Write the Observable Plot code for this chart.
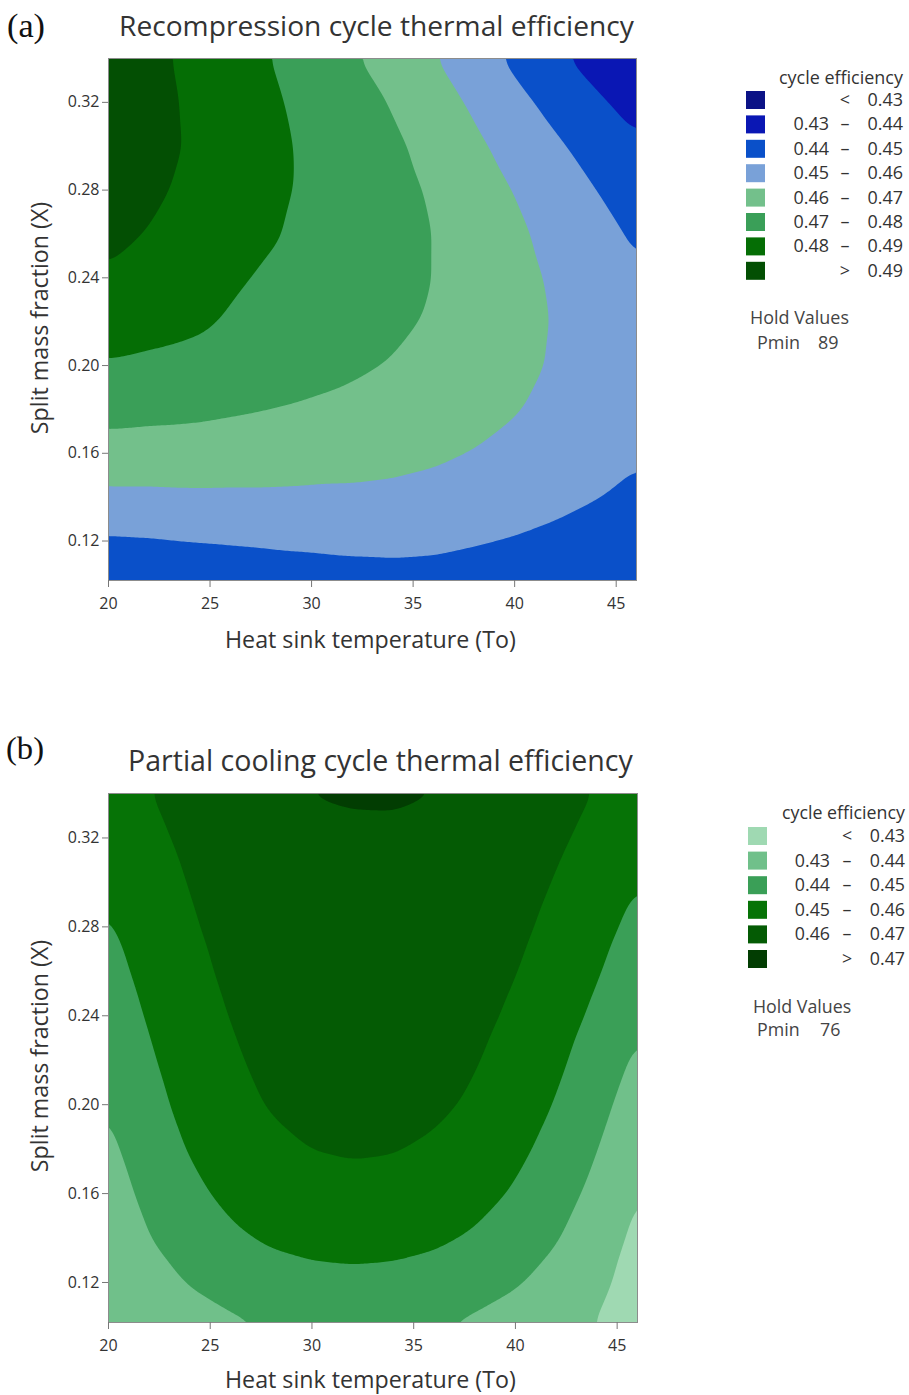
<!DOCTYPE html>
<html><head><meta charset="utf-8">
<script src="https://cdn.jsdelivr.net/npm/d3@7"></script>
<script src="https://cdn.jsdelivr.net/npm/@observablehq/plot@0.6"></script>
<style>
html,body{margin:0;padding:0;background:#fff;}
#page{position:relative;width:909px;height:1395px;overflow:hidden;}
#page > div, #page > svg{position:absolute;}
</style></head>
<body><div id="page"></div>
<script>
// ---- data ----
const tempGrid = [20, 22, 24, 26, 28, 30, 32, 34, 36, 38, 40, 42, 44, 46];      // Heat sink temperature (To)
const fracGrid = [0.10, 0.12, 0.14, 0.16, 0.18, 0.20, 0.22, 0.24, 0.26, 0.28, 0.30, 0.32, 0.34]; // Split mass fraction (X)

// (a) recompression cycle efficiency, one row per fracGrid value, one column per tempGrid value
const effRecompression = [
  [.4405,.4405,.4412,.4424,.4436,.4446,.4456,.4462,.4460,.4449,.4440,.4427,.4415,.4409],
  [.4489,.4494,.4503,.4509,.4515,.4519,.4524,.4525,.4520,.4508,.4495,.4480,.4464,.4451],
  [.4580,.4581,.4585,.4585,.4586,.4584,.4584,.4580,.4572,.4557,.4541,.4523,.4503,.4484],
  [.4661,.4658,.4657,.4652,.4647,.4641,.4635,.4627,.4614,.4597,.4578,.4556,.4532,.4508],
  [.4732,.4725,.4720,.4710,.4700,.4689,.4678,.4665,.4649,.4628,.4605,.4579,.4551,.4522],
  [.4793,.4783,.4773,.4759,.4744,.4728,.4713,.4695,.4674,.4649,.4622,.4592,.4560,.4527],
  [.4844,.4831,.4817,.4793,.4772,.4755,.4739,.4716,.4691,.4662,.4630,.4595,.4559,.4523],
  [.4893,.4875,.4840,.4810,.4790,.4772,.4752,.4729,.4699,.4665,.4628,.4588,.4549,.4509],
  [.4916,.4897,.4868,.4835,.4806,.4783,.4758,.4734,.4699,.4659,.4617,.4573,.4530,.4487],
  [.4937,.4915,.4885,.4848,.4815,.4787,.4760,.4730,.4689,.4644,.4597,.4548,.4501,.4455],
  [.4948,.4924,.4895,.4851,.4818,.4785,.4755,.4717,.4670,.4619,.4567,.4514,.4464,.4414],
  [.4950,.4924,.4892,.4848,.4812,.4775,.4740,.4694,.4642,.4586,.4528,.4471,.4417,.4364],
  [.4945,.4918,.4886,.4836,.4800,.4757,.4708,.4662,.4605,.4543,.4481,.4418,.4361,.4304]
];

// (b) partial cooling cycle efficiency
const effPartialCooling = [
  [.4296,.4331,.4359,.4382,.4397,.4407,.4410,.4407,.4397,.4382,.4359,.4331,.4296,.4255],
  [.4317,.4365,.4405,.4436,.4458,.4471,.4476,.4472,.4459,.4438,.4408,.4369,.4321,.4265],
  [.4338,.4398,.4447,.4485,.4513,.4530,.4536,.4531,.4516,.4490,.4454,.4406,.4348,.4279],
  [.4358,.4424,.4479,.4521,.4550,.4569,.4575,.4571,.4556,.4530,.4491,.4439,.4375,.4297],
  [.4380,.4450,.4506,.4550,.4581,.4601,.4608,.4604,.4588,.4560,.4521,.4469,.4403,.4324],
  [.4401,.4471,.4528,.4573,.4606,.4627,.4636,.4632,.4616,.4588,.4548,.4495,.4430,.4353],
  [.4423,.4490,.4545,.4589,.4621,.4641,.4650,.4647,.4632,.4606,.4567,.4518,.4456,.4383],
  [.4446,.4509,.4562,.4603,.4634,.4653,.4662,.4659,.4646,.4622,.4586,.4540,.4483,.4415],
  [.4469,.4528,.4577,.4616,.4645,.4663,.4671,.4670,.4658,.4636,.4603,.4561,.4508,.4445],
  [.4491,.4546,.4591,.4627,.4654,.4671,.4679,.4678,.4667,.4647,.4618,.4579,.4531,.4474],
  [.4512,.4562,.4604,.4638,.4662,.4679,.4686,.4685,.4676,.4658,.4632,.4596,.4553,.4501],
  [.4534,.4580,.4618,.4648,.4671,.4684,.4688,.4688,.4683,.4669,.4645,.4614,.4575,.4528],
  [.4555,.4598,.4634,.4662,.4684,.4702,.4707,.4708,.4701,.4683,.4661,.4633,.4596,.4553]
];

const xTicks = [20, 25, 30, 35, 40, 45];
const yTicks = [0.12, 0.16, 0.20, 0.24, 0.28, 0.32];

const breaksRecompression = [0.43, 0.44, 0.45, 0.46, 0.47, 0.48, 0.49];
const colorsRecompression = ["#0b1286", "#0a17b4", "#0a50c9", "#79a1d8", "#73c08b", "#3a9f58", "#056e05", "#034f03"];
const breaksPartialCooling = [0.43, 0.44, 0.45, 0.46, 0.47];
const colorsPartialCooling = ["#9fd9b2", "#70c08a", "#3a9f57", "#067306", "#045b04", "#023d02"];

const titles = ["Recompression cycle thermal efficiency", "Partial cooling cycle thermal efficiency"];
const panelTags = ["(a)", "(b)"];
const holdPmin = [89, 76];
const xLabel = "Heat sink temperature (To)";
const yLabel = "Split mass fraction (X)";
const legendTitle = "cycle efficiency";

// ---- build ----
const page = document.getElementById("page");
const FONT = "'Open Sans', 'Noto Sans', sans-serif";

function table(grid) {
  const out = [];
  fracGrid.forEach((X, i) => tempGrid.forEach((T, j) => out.push({T, X, eff: grid[i][j]})));
  return out;
}

function chart({grid, breaks, colors, top, height, marginBottom, marginRight}) {
  const svg = Plot.plot({
    width: 700, height,
    marginLeft: 108, marginRight, marginTop: 58, marginBottom,
    style: {fontFamily: FONT, fontSize: "16px", color: "#333", background: "transparent"},
    x: {domain: [20, 46]},
    y: {domain: [0.102, 0.34]},
    color: {type: "threshold", domain: breaks, range: colors},
    marks: [
      Plot.contour(table(grid), {
        x: "T", y: "X", fill: "eff",
        interpolate: "barycentric",
        pixelSize: 2,
        blur: 4,
        thresholds: [0.40, ...breaks],
        stroke: "none"
      }),
      Plot.frame({stroke: "#8c8c8c", strokeWidth: 1}),
      Plot.axisX({ticks: xTicks, tickSize: 7, tickPadding: 10, tickFormat: d => String(d), label: null, stroke: "#777", fill: "#333"}),
      Plot.axisY({ticks: yTicks, tickSize: 6, tickPadding: 3, tickFormat: d => d.toFixed(2), label: null, stroke: "#777", fill: "#333"})
    ]
  });
  svg.style.left = "0px";
  svg.style.top = top + "px";
  page.appendChild(svg);
}

chart({grid: effRecompression, breaks: breaksRecompression, colors: colorsRecompression, top: 0, height: 680, marginBottom: 100, marginRight: 64});
chart({grid: effPartialCooling, breaks: breaksPartialCooling, colors: colorsPartialCooling, top: 735, height: 660, marginBottom: 73, marginRight: 63});

// ---- overlay text: titles, axis labels, legends ----
const ns = "http://www.w3.org/2000/svg";
const ov = document.createElementNS(ns, "svg");
ov.setAttribute("width", 909); ov.setAttribute("height", 1395);
ov.style.left = "0px"; ov.style.top = "0px";
page.appendChild(ov);

function txt(str, {x, y, size = 15, family = FONT, anchor = "start", fit, fill = "#333", rotate}) {
  const t = document.createElementNS(ns, "text");
  t.textContent = str;
  t.setAttribute("x", x); t.setAttribute("y", y);
  t.setAttribute("font-family", family);
  t.setAttribute("font-size", size);
  t.setAttribute("text-anchor", anchor);
  t.setAttribute("fill", fill);
  if (rotate) t.setAttribute("transform", `rotate(${rotate},${x},${y})`);
  ov.appendChild(t);
  if (fit) {
    const w = t.getComputedTextLength();
    if (w > 0) { size = size * fit / w; t.setAttribute("font-size", size); }
  }
  return size;
}
function rect(x, y, w, h, fill) {
  const r = document.createElementNS(ns, "rect");
  r.setAttribute("x", x); r.setAttribute("y", y); r.setAttribute("width", w); r.setAttribute("height", h);
  r.setAttribute("fill", fill);
  ov.appendChild(r);
}

const panels = [
  {tag: {x: 7, y: 37}, title: {x: 119, y: 36, w: 515}, xl: {x: 225, y: 648}, yl: {x: 48, y: 318},
   breaks: breaksRecompression, colors: colorsRecompression,
   leg: {titleY: 84, titleW: 124, right: 903, sx: 746, row0: 100, step: 24.4, lowR: 829, dash: 845, holdX: 750, holdY: 324, pminY: 349, pminX: 757, valX: 818}},
  {tag: {x: 6, y: 759}, title: {x: 128, y: 771, w: 505}, xl: {x: 225, y: 1388}, yl: {x: 48, y: 1056},
   breaks: breaksPartialCooling, colors: colorsPartialCooling,
   leg: {titleY: 819, titleW: 123, right: 905, sx: 748, row0: 836, step: 24.6, lowR: 830, dash: 847, holdX: 753, holdY: 1013, pminY: 1036, pminX: 757, valX: 820}}
];

panels.forEach((p, k) => {
  txt(panelTags[k], {x: p.tag.x, y: p.tag.y, size: 30, family: "'Liberation Serif', 'DejaVu Serif', serif", fit: 38, fill: "#111"});
  txt(titles[k], {x: p.title.x, y: p.title.y, size: 25, fit: p.title.w, fill: "#333"});
  const ls = txt(xLabel, {x: p.xl.x, y: p.xl.y, size: 20, fit: 291, fill: "#333"});
  txt(yLabel, {x: p.yl.x, y: p.yl.y, size: ls, anchor: "middle", rotate: -90, fill: "#333"});
  const L = p.leg;
  const fs = txt(legendTitle, {x: L.right - L.titleW, y: L.titleY, size: 15, fit: L.titleW, fill: "#333"});
  const n = p.colors.length;
  for (let i = 0; i < n; i++) {
    const cy = L.row0 + i * L.step;
    rect(L.sx, cy - 9, 19, 18, p.colors[i]);
    const by = cy + 6;
    if (i === 0) {
      txt("<", {x: L.dash, y: by, size: fs, anchor: "middle"});
      txt(p.breaks[0].toFixed(2), {x: L.right, y: by, size: fs, anchor: "end"});
    } else if (i === n - 1) {
      txt(">", {x: L.dash, y: by, size: fs, anchor: "middle"});
      txt(p.breaks[n - 2].toFixed(2), {x: L.right, y: by, size: fs, anchor: "end"});
    } else {
      txt(p.breaks[i - 1].toFixed(2), {x: L.lowR, y: by, size: fs, anchor: "end"});
      txt("–", {x: L.dash, y: by, size: fs, anchor: "middle"});
      txt(p.breaks[i].toFixed(2), {x: L.right, y: by, size: fs, anchor: "end"});
    }
  }
  txt("Hold Values", {x: L.holdX, y: L.holdY, size: fs, fill: "#444"});
  txt("Pmin", {x: L.pminX, y: L.pminY, size: fs, fill: "#444"});
  txt(String(holdPmin[k]), {x: L.valX, y: L.pminY, size: fs, fill: "#444"});
});
</script>
</body></html>
